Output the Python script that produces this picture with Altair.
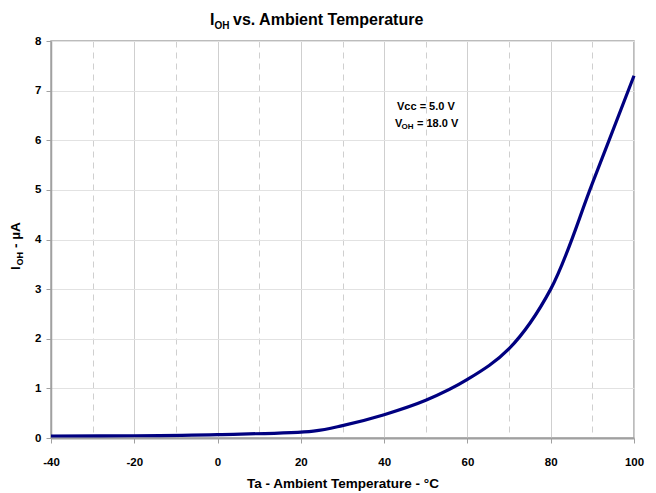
import altair as alt
import pandas as pd

# Data
temps = [-40, -20, 0, 23, 30, 40, 50, 60, 70, 80, 90, 100]
ioh = [0.04, 0.045, 0.07, 0.14, 0.25, 0.47, 0.76, 1.18, 1.8, 3.0, 5.13, 7.3]
x_ticks = list(range(-40, 101, 10))
y_ticks = list(range(0, 9))

FONT = "Liberation Sans"
df = pd.DataFrame({"T": temps, "I": ioh})
one = pd.DataFrame({"k": [0]})

line = alt.Chart(df).mark_line(color="#000080", strokeWidth=3.2, interpolate="catmull-rom").encode(
    x=alt.X(
        "T:Q",
        scale=alt.Scale(domain=[-40, 100], nice=False, zero=False),
        axis=alt.Axis(
            values=x_ticks,
            labelExpr="datum.value % 20 == 0 ? '' + datum.value : ''",
            labelFlush=False,
            title="Ta - Ambient Temperature - °C",
            titleFont=FONT, titleFontSize=13.5, titleFontWeight="bold", titleColor="#000",
            titlePadding=9,
            labelFont=FONT, labelFontSize=11.5, labelFontWeight="bold", labelColor="#000",
            labelPadding=13, tickSize=5, tickColor="#a0a0a0",
            tickOpacity={"condition": {"test": "datum.value % 20 != 0", "value": 0}, "value": 1},
            domainColor="#a0a0a0", domainWidth=2,
            grid=True, gridColor="#cfcfcf", gridWidth=1,
            gridDash={"condition": {"test": "datum.value % 20 != 0", "value": [6, 5]}, "value": []},
        ),
    ),
    y=alt.Y(
        "I:Q",
        scale=alt.Scale(domain=[0, 8], nice=False),
        axis=alt.Axis(
            values=y_ticks, format="d", title="", labelFlush=False,
            labelFont=FONT, labelFontSize=11.5, labelFontWeight="bold", labelColor="#000",
            labelPadding=5, tickSize=5, tickColor="#a0a0a0",
            domainColor="#a0a0a0", domainWidth=1.5,
            grid=True, gridColor="#e2e2e2", gridWidth=1,
        ),
    ),
)


def txt(s, x, y, size, angle=0, align="left"):
    mk = dict(text=s, font=FONT, fontSize=size, fontWeight="bold", color="#000",
              align=align, baseline="alphabetic")
    if angle:
        mk["angle"] = angle
    return alt.Chart(one).mark_text(**mk).encode(x=alt.value(x), y=alt.value(y))


# Title: I_OH vs. Ambient Temperature
title_parts = [
    txt("I", 159, -16, 16),
    txt("OH", 163.5, -12.5, 10),
    txt("vs. Ambient Temperature", 182, -16, 16),
]

# Y axis title: I_OH - µA (rotated)
ytitle_parts = [
    txt("I", -31.5, 229, 13.5, angle=270),
    txt("OH", -28.5, 224.5, 9, angle=270),
    txt("- µA", -31.5, 207, 13.5, angle=270),
]

# Annotation
annot_parts = [
    txt("Vcc = 5.0 V", 346, 69, 11),
    txt("V", 344, 85.5, 11),
    txt("OH", 350.5, 88, 8),
    txt("= 18.0 V", 366, 85.5, 11),
]

chart = alt.layer(line, *title_parts, *ytitle_parts, *annot_parts).properties(
    width=583, height=397,
    autosize=alt.AutoSizeParams(type="none"),
    padding={"left": 43, "top": 33, "right": 14, "bottom": 54},
).configure_view(stroke="#a6a6a6", strokeWidth=1.5)

chart.save("out.html", embed_options={"renderer": "svg", "actions": False})
